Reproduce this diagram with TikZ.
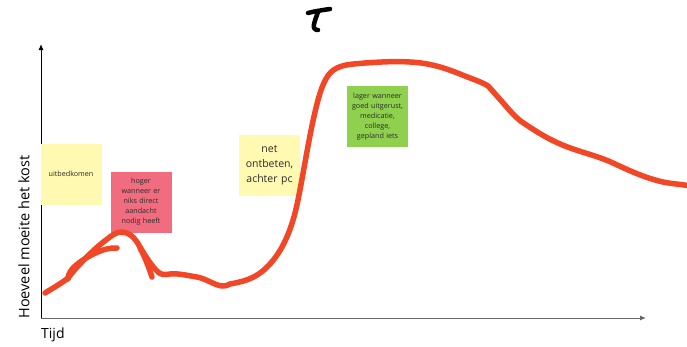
\documentclass[tikz,border=0pt]{standalone}
\usepackage{fontspec}
\setmainfont{Open Sans}
\usetikzlibrary{arrows.meta}
\definecolor{stickyyellow}{HTML}{FFF9B1}
\definecolor{stickypink}{HTML}{F16C7F}
\definecolor{stickygreen}{HTML}{8FD14F}
\definecolor{penred}{HTML}{F24726}
\definecolor{notetext}{HTML}{2B2B2B}
\begin{document}
\begin{tikzpicture}[x=1pt,y=-1pt,
  note/.style={minimum width=61pt,minimum height=61pt,inner sep=1pt,align=center,text=notetext,font=\fontsize{7.2}{10}\selectfont,text width=58pt},
  axis/.style={line width=1pt,-{Latex[length=6pt,width=5pt]}},
  pen/.style={penred,line width=5.5pt,line cap=round,line join=round},
  blackpen/.style={black,line width=4.5pt,line cap=round,line join=round}]
\useasboundingbox (0,0) rectangle (687,346);
% axes
\coordinate (O) at (41,318);
\coordinate (ytop) at (41,44);
\coordinate (xend) at (646,318);
\draw[axis] (O) -- (ytop);
\draw[axis,draw=black!60] (O) -- (xend);
\node[anchor=west,font=\fontsize{14}{16}\selectfont,inner sep=0pt] (tijd) at (41,335) {Tijd};
\node[rotate=90,anchor=center,font=\fontsize{14.5}{16}\selectfont,inner sep=0pt] (ylab) at (24,237) {Hoeveel moeite het kost};
% sticky notes
\node[note,fill=stickyyellow] (n1) at (71,174) {uitbedkomen};
\node[note,fill=stickypink] (n2) at (141,202) {hoger\\wanneer er\\niks direct\\aandacht\\nodig heeft};
\node[note,fill=stickyyellow,font=\fontsize{10.5}{15}\selectfont] (n3) at (269.5,165) {net\\ontbeten,\\achter pc};
\node[note,fill=stickygreen] (n4) at (377.5,116.5) {lager wanneer\\goed uitgerust,\\medicatie,\\college,\\gepland iets};
% T glyph
\draw[blackpen] (308,13) .. controls (316,11) and (323,10) .. (330,9);
\draw[blackpen] (318,12) .. controls (316,18) and (313,24) .. (314,28) .. controls (315,30) and (317,30) .. (318,30);
% red curve
\draw[pen] (45,293) .. controls (53,288) and (62,283) .. (68,278)
  .. controls (78,265) and (95,248) .. (106,240)
  .. controls (112,235) and (117,232) .. (121,232)
  .. controls (128,232) and (133,236) .. (137,242)
  .. controls (143,252) and (150,264) .. (156,270)
  .. controls (160,275) and (164,275) .. (170,274)
  .. controls (178,273) and (190,276) .. (197,277)
  .. controls (207,279) and (214,285) .. (222,286)
  .. controls (226,286) and (228,285) .. (230,284)
  .. controls (240,282) and (255,280) .. (268,266)
  .. controls (282,252) and (292,230) .. (298,200)
  .. controls (305,165) and (310,130) .. (318,100)
  .. controls (323,82) and (328,72) .. (337,68)
  .. controls (345,64) and (355,64) .. (365,63)
  .. controls (380,62) and (395,61) .. (410,62)
  .. controls (430,63) and (445,68) .. (460,74)
  .. controls (472,79) and (482,82) .. (488,86)
  .. controls (492,90) and (494,93) .. (497,96)
  .. controls (507,107) and (515,118) .. (525,124)
  .. controls (540,134) and (550,140) .. (565,146)
  .. controls (580,152) and (598,156) .. (613,163)
  .. controls (628,170) and (645,178) .. (663,182)
  .. controls (673,184) and (680,184) .. (690,186);
\draw[pen] (68,279) .. controls (68,273) and (72,268) .. (80,262) .. controls (90,255) and (105,247) .. (117,248);
\draw[pen] (140,248) .. controls (145,257) and (149,268) .. (152,277);
\end{tikzpicture}
\end{document}
